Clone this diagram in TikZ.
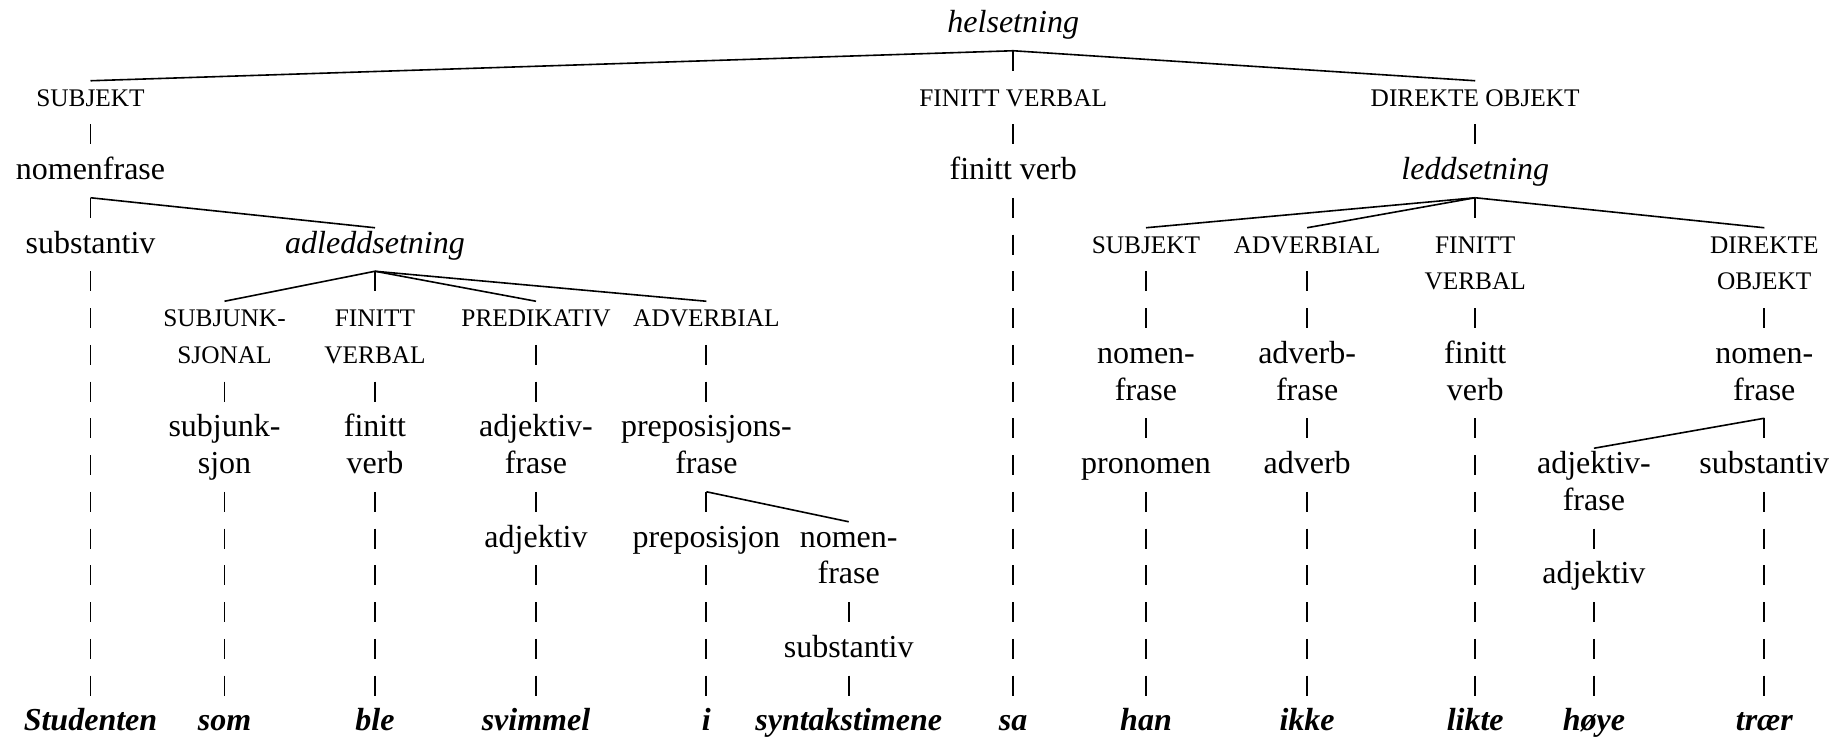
\documentclass[tikz,border=0pt]{standalone}
\usepackage{fontspec}
\setmainfont{Liberation Serif}
\usetikzlibrary{calc}
\tikzset{
  lab/.style={anchor=base, inner sep=0pt, font=\fontsize{12}{14}\selectfont},
  cat/.style={anchor=base, inner sep=0pt, font=\fontsize{9.5}{11}\selectfont},
  clause/.style={anchor=base, inner sep=0pt, font=\fontsize{12}{14}\selectfont\itshape},
  word/.style={anchor=base, inner sep=0pt, font=\fontsize{12}{14}\selectfont\bfseries\itshape},
  branch/.style={line width=0.6pt},
  vbar/.style={line width=0.7pt, dash pattern=on 7.5pt off 6.28125pt},
}
\newcommand\vlink[2]{\draw[vbar] ($(#1.base)+(0,18.25)$) -- ($(#2.base)+(0,-35.25)$);}
\newcommand\dlink[2]{\draw[branch] ($(#1.base)+(0,18.25)$) -- ($(#2.base)+(0,-25.25)$);}
\begin{document}
\begin{tikzpicture}[x=0.375pt,y=-0.375pt]
\useasboundingbox (0,0) rectangle (1843,742);
% row 0
\node[clause] (hel) at (1013.2,32.5) {helsetning};
% row 2
\node[cat] (subj) at (90.5,106) {SUBJEKT};
\node[cat] (fv) at (1013.2,106) {FINITT VERBAL};
\node[cat] (do) at (1475.2,106) {DIREKTE OBJEKT};
% row 4
\node[lab] (np1) at (90.5,179.5) {nomenfrase};
\node[lab] (fverb) at (1013.2,179.5) {finitt verb};
\node[clause] (led) at (1475.2,179.5) {leddsetning};
% row 6
\node[lab] (sub1) at (90.5,253) {substantiv};
\node[clause] (adl) at (375,253) {adleddsetning};
\node[cat] (lsubj) at (1146,253) {SUBJEKT};
\node[cat] (ladv) at (1307.1,253) {ADVERBIAL};
\node[cat] (lfvA) at (1475.2,253) {FINITT};
\node[cat] (ldoA) at (1764.3,253) {DIREKTE};
% row 7
\node[cat] (lfvB) at (1475.2,289.75) {VERBAL};
\node[cat] (ldoB) at (1764.3,289.75) {OBJEKT};
% row 8
\node[cat] (sjA) at (224.5,326.5) {SUBJUNK-};
\node[cat] (afvA) at (375,326.5) {FINITT};
\node[cat] (apred) at (536,326.5) {PREDIKATIV};
\node[cat] (aadv) at (706.4,326.5) {ADVERBIAL};
% row 9
\node[cat] (sjB) at (224.5,363.25) {SJONAL};
\node[cat] (afvB) at (375,363.25) {VERBAL};
\node[lab] (lnpA) at (1146,363.25) {nomen-};
\node[lab] (ladvpA) at (1307.1,363.25) {adverb-};
\node[lab] (lfinA) at (1475.2,363.25) {finitt};
\node[lab] (lnp2A) at (1764.3,363.25) {nomen-};
% row 10
\node[lab] (lnpB) at (1146,400) {frase};
\node[lab] (ladvpB) at (1307.1,400) {frase};
\node[lab] (lfinB) at (1475.2,400) {verb};
\node[lab] (lnp2B) at (1764.3,400) {frase};
% row 11
\node[lab] (sjnA) at (224.5,436.75) {subjunk-};
\node[lab] (afinA) at (375,436.75) {finitt};
\node[lab] (aapA) at (536,436.75) {adjektiv-};
\node[lab] (ppA) at (706.4,436.75) {preposisjons-};
% row 12
\node[lab] (sjnB) at (224.5,473.5) {sjon};
\node[lab] (afinB) at (375,473.5) {verb};
\node[lab] (aapB) at (536,473.5) {frase};
\node[lab] (ppB) at (706.4,473.5) {frase};
\node[lab] (pron) at (1146,473.5) {pronomen};
\node[lab] (adverb) at (1307.1,473.5) {adverb};
\node[lab] (rapA) at (1593.9,473.5) {adjektiv-};
\node[lab] (rsub) at (1764.3,473.5) {substantiv};
% row 13
\node[lab] (rapB) at (1593.9,510.25) {frase};
% row 14
\node[lab] (aadj) at (536,547) {adjektiv};
\node[lab] (prep) at (706.4,547) {preposisjon};
\node[lab] (pnpA) at (848.7,547) {nomen-};
% row 15
\node[lab] (pnpB) at (848.7,583.75) {frase};
\node[lab] (radj) at (1593.9,583.75) {adjektiv};
% row 17
\node[lab] (psub) at (848.7,657.25) {substantiv};
% row 19
\node[word] (w1) at (90.5,730.75) {Studenten};
\node[word] (w2) at (224.5,730.75) {som};
\node[word] (w3) at (375,730.75) {ble};
\node[word] (w4) at (536,730.75) {svimmel};
\node[word] (w5) at (706.4,730.75) {i};
\node[word] (w6) at (848.7,730.75) {syntakstimene};
\node[word] (w7) at (1013.2,730.75) {sa};
\node[word] (w8) at (1146,730.75) {han};
\node[word] (w9) at (1307.1,730.75) {ikke};
\node[word] (w10) at (1475.2,730.75) {likte};
\node[word] (w11) at (1593.9,730.75) {høye};
\node[word] (w12) at (1764.3,730.75) {trær};
% links
\dlink{hel}{subj} \vlink{hel}{fv} \dlink{hel}{do}
\vlink{subj}{np1} \vlink{fv}{fverb} \vlink{do}{led}
\vlink{np1}{sub1} \dlink{np1}{adl}
\vlink{fverb}{w7}
\vlink{sub1}{w1}
\dlink{adl}{sjA} \vlink{adl}{afvA} \dlink{adl}{apred} \dlink{adl}{aadv}
\dlink{led}{lsubj} \dlink{led}{ladv} \vlink{led}{lfvA} \dlink{led}{ldoA}
\vlink{sjB}{sjnA} \vlink{sjnB}{w2}
\vlink{afvB}{afinA} \vlink{afinB}{w3}
\vlink{apred}{aapA} \vlink{aapB}{aadj} \vlink{aadj}{w4}
\vlink{aadv}{ppA} \vlink{ppB}{prep} \dlink{ppB}{pnpA} \vlink{prep}{w5}
\vlink{pnpB}{psub} \vlink{psub}{w6}
\vlink{lsubj}{lnpA} \vlink{lnpB}{pron} \vlink{pron}{w8}
\vlink{ladv}{ladvpA} \vlink{ladvpB}{adverb} \vlink{adverb}{w9}
\vlink{lfvB}{lfinA} \vlink{lfinB}{w10}
\vlink{ldoB}{lnp2A} \dlink{lnp2B}{rapA} \vlink{lnp2B}{rsub} \vlink{rsub}{w12}
\vlink{rapB}{radj} \vlink{radj}{w11}
\end{tikzpicture}
\end{document}
